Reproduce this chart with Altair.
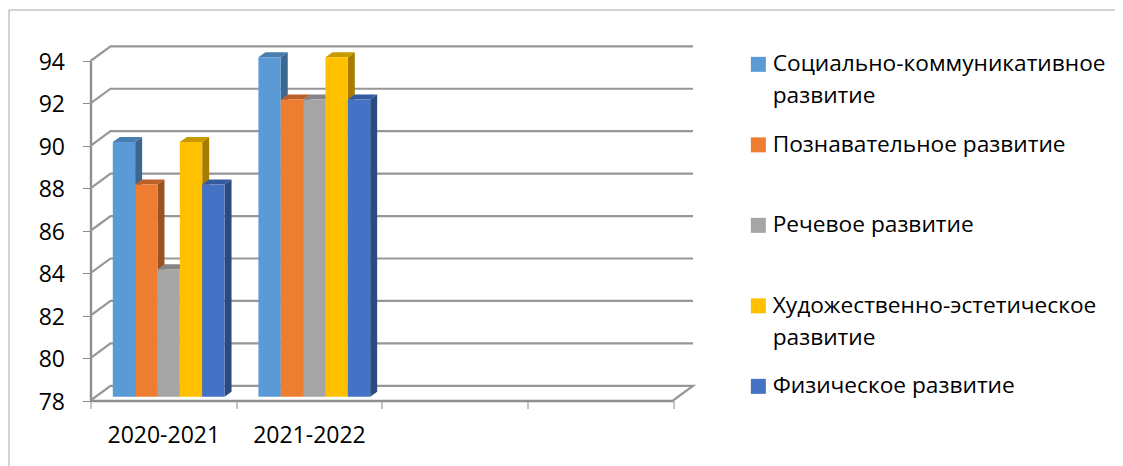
import altair as alt
import pandas as pd

categories = ["2020-2021", "2021-2022"]
series = ["Социально-коммуникативное развитие", "Познавательное развитие", "Речевое развитие",
          "Художественно-эстетическое развитие", "Физическое развитие"]
values_2020 = [90, 88, 84, 90, 88]
values_2021 = [94, 92, 92, 94, 92]
front_colors = ["#5B9BD5", "#ED7D31", "#A5A5A5", "#FFC000", "#4472C4"]
side_colors = ["#3B6790", "#9C5220", "#6E6E6E", "#A67D00", "#2C4A80"]
top_colors = ["#4A7EAE", "#BB6127", "#858585", "#C99A00", "#335AA0"]
y_ticks = [78, 80, 82, 84, 86, 88, 90, 92, 94]
x_ticks = [0, 1, 2, 3, 4]

FONT = "Open Sans"
# depth of the wall and of the bars, in axis units
WALL_DX, WALL_DY = 0.1374, 0.693
BAR_DX, BAR_DY = 0.048, 0.236
BAR_W, BAR_START, BAR_LIFT = 0.1535, 0.153, 0.18
BASE = 78

fronts, sides, tops = [], [], []
for c, vals in enumerate([values_2020, values_2021]):
    for s, v in enumerate(vals):
        L = c + BAR_START + s * BAR_W
        R = L + BAR_W
        lo, hi = BASE + BAR_LIFT, v + BAR_LIFT
        key = f"{c}-{s}"
        fronts.append(dict(x=L, x2=R, y=hi, y2=lo, series=series[s]))
        sides.append(dict(k=key, x=R, y=hi, y2=lo, c=side_colors[s]))
        sides.append(dict(k=key, x=R + BAR_DX, y=hi + BAR_DY, y2=lo + BAR_DY, c=side_colors[s]))
        e = hi + BAR_DY
        for px, a, b in [(L, hi, hi), (L + BAR_DX, hi, e), (R, hi, e), (R + BAR_DX, e, e)]:
            tops.append(dict(k=key, x=px, y=a, y2=b, c=top_colors[s]))

grid = []
for v in y_ticks:
    grid.append(dict(k=v, o=0, x=0, y=v))
    grid.append(dict(k=v, o=1, x=WALL_DX, y=v + WALL_DY))
    grid.append(dict(k=v, o=2, x=4 + WALL_DX, y=v + WALL_DY))
    if v == BASE:
        grid.append(dict(k=v, o=3, x=4, y=v))

xs = alt.Scale(domain=[0, 4], nice=False, zero=False)
ys = alt.Scale(domain=[78, 94], nice=False, zero=False)

x_axis = alt.Axis(values=x_ticks, title=None, grid=False, tickSize=8, tickColor="#8C8C8C", tickWidth=1,
                  domainColor="#8F8F8F", domainWidth=2.4,
                  labelExpr="datum.value==0?'2020-2021':datum.value==1?'2021-2022':''",
                  labelOffset=72.8, labelAlign="center", labelFlush=False, labelOverlap=False,
                  labelPadding=16, labelFontSize=23, labelFont=FONT, labelColor="#000000")
y_axis = alt.Axis(values=y_ticks, title=None, grid=False, tickSize=8, tickColor="#8C8C8C", tickWidth=1,
                  domainColor="#8F8F8F", domainWidth=2.4, labelOffset=1.5,
                  labelPadding=18, labelFontSize=23, labelFont=FONT, labelColor="#000000")
x_enc = alt.X("x:Q", scale=xs, axis=x_axis)
y_enc = alt.Y("y:Q", scale=ys, axis=y_axis)

frame_top = alt.Chart(pd.DataFrame({"a": [0]})).mark_rule(color="#A6A6A6", strokeWidth=1).encode(
    x=alt.value(-81.5), x2=alt.value(1040), y=alt.value(-51))
frame_left = alt.Chart(pd.DataFrame({"a": [0]})).mark_rule(color="#A6A6A6", strokeWidth=1).encode(
    x=alt.value(-81.5), y=alt.value(-51), y2=alt.value(420))

grid_layer = alt.Chart(pd.DataFrame(grid)).mark_line(color="#979797", strokeWidth=2.2).encode(
    x=x_enc, y=y_enc, detail="k:N", order="o:Q")

side_layer = alt.Chart(pd.DataFrame(sides)).mark_area(opacity=1).encode(
    x=x_enc, y=y_enc, y2="y2:Q", detail="k:N",
    fill=alt.Fill("c:N", scale=None))
top_layer = alt.Chart(pd.DataFrame(tops)).mark_area(opacity=1).encode(
    x=x_enc, y=y_enc, y2="y2:Q", detail="k:N",
    fill=alt.Fill("c:N", scale=None))

legend = alt.Legend(
    title=None, orient="none", legendX=656.5, legendY=-8, symbolType="square", symbolSize=225,
    symbolStrokeWidth=0, labelFont=FONT, labelFontSize=22.7, labelColor="#000000", labelLimit=420,
    labelOffset=3, labelBaseline="middle", rowPadding=24.5, gridAlign="all",
    labelExpr="length(datum.label)>25 ? split(datum.label,' ') : datum.label")

front_layer = alt.Chart(pd.DataFrame(fronts)).mark_bar(opacity=1, stroke=None).encode(
    x=x_enc, x2="x2:Q", y=y_enc, y2="y2:Q",
    color=alt.Color("series:N", sort=series, legend=legend,
                    scale=alt.Scale(domain=series, range=front_colors)))

chart = alt.layer(frame_top, frame_left, grid_layer, side_layer, top_layer, front_layer).properties(
    width=582.5, height=339.5,
    autosize=alt.AutoSizeParams(type="none"),
    padding={"left": 82.5, "top": 53, "right": 442, "bottom": 65.5},
    background="white",
).configure(style={"guide-label": {"lineHeight": 32}}, view=alt.ViewConfig(stroke=None))

chart.save("out.html", embed_options={"renderer": "svg", "actions": False})
